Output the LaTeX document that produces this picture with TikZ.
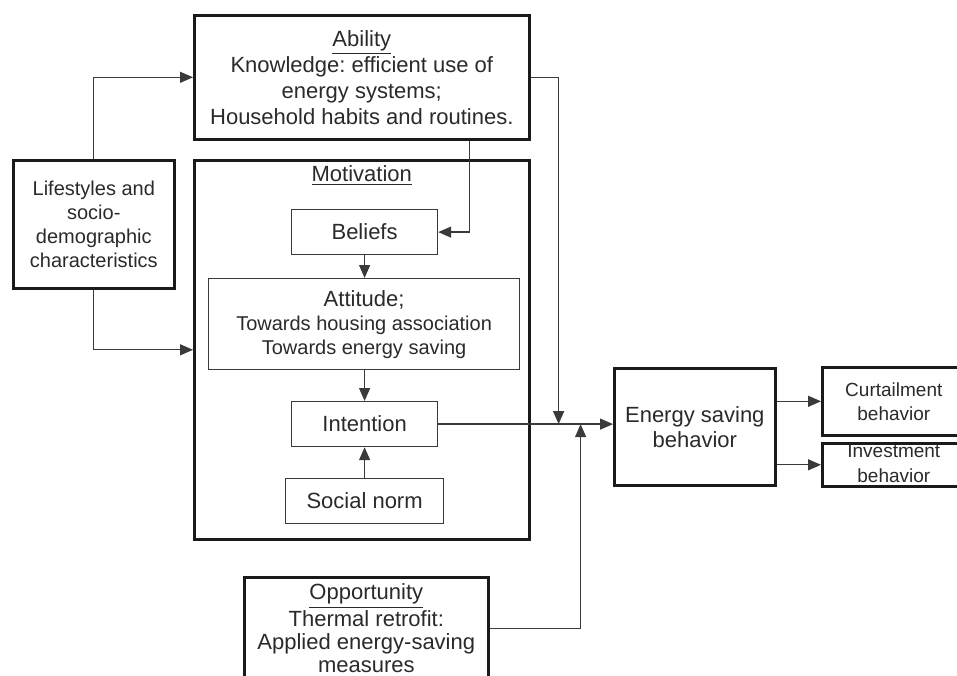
\documentclass[tikz,border=0pt]{standalone}
\usepackage{fontspec}
\setmainfont{Liberation Sans}
\usepackage{tikz}
\usetikzlibrary{positioning,calc,arrows.meta}
\definecolor{boxline}{HTML}{1A1A1A}
\definecolor{thinline}{HTML}{3A3A3A}
\definecolor{boxtext}{HTML}{2A2A2A}
\frenchspacing

\begin{document}
\begin{tikzpicture}[x=0.5pt, y=-0.5pt, >={Triangle[length=6.5pt, width=5.5pt]},
    font=\fontsize{11}{13}\selectfont, text=boxtext,
    outerbox/.style={draw=boxline, line width=1.3pt, align=center, inner sep=1pt, anchor=north west},
    innerbox/.style={draw=thinline, line width=0.6pt, align=center, inner sep=1pt, anchor=north west},
    flow/.style={->, draw=thinline, line width=0.65pt}]

\useasboundingbox (0,0) rectangle (957,675);

%%% ---------- CAJAS PRINCIPALES ----------
\node[outerbox, minimum width=167.5pt, minimum height=62pt] (ability) at (193,14)
    {\underline{Ability}\\Knowledge: efficient use of\\energy systems;\\Household habits and routines.};

\node[outerbox, minimum width=80.5pt, minimum height=64pt, font=\fontsize{10}{12}\selectfont]
    (lifestyles) at (12,159)
    {Lifestyles and\\socio-\\demographic\\characteristics};

% Motivacion (contenedor)
\node[outerbox, minimum width=167.5pt, minimum height=189.5pt] (motivation) at (193,159) {};
\node[anchor=north, inner sep=0pt] (motivlabel) at ([yshift=-3pt]motivation.north)
    {\underline{Motivation}};

% Cajas interiores
\node[innerbox, minimum width=73pt, minimum height=22.5pt] (beliefs) at (291,209) {Beliefs};
\node[innerbox, minimum width=155.5pt, minimum height=45.5pt] (attitude) at (208,278)
    {Attitude;\\[-1pt]{\fontsize{10}{12}\selectfont Towards housing association}\\[-1pt]
     {\fontsize{10}{12}\selectfont Towards energy saving}};
\node[innerbox, minimum width=73pt, minimum height=22.5pt] (intention) at (291,401) {Intention};
\node[innerbox, minimum width=79pt, minimum height=22.5pt] (socialnorm) at (285,478) {Social norm};

% Oportunidad
\node[outerbox, minimum width=122pt, minimum height=51pt, font=\fontsize{11}{11.6}\selectfont]
    (opportunity) at (243,576)
    {\underline{Opportunity}\\Thermal retrofit:\\Applied energy-saving\\measures};

% Comportamiento
\node[outerbox, minimum width=80.5pt, minimum height=58.5pt, font=\fontsize{11}{12.5}\selectfont]
    (energy) at (613,367) {Energy saving\\behavior};
\node[outerbox, minimum width=71.5pt, minimum height=34pt, font=\fontsize{9.5}{12}\selectfont]
    (curtail) at (821,366) {Curtailment\\behavior};
\node[outerbox, minimum width=71.5pt, minimum height=21.5pt] (invest) at (821,442) {};
\node[align=center, inner sep=0pt, font=\fontsize{9.5}{12.5}\selectfont]
    (investtext) at ([yshift=0.5pt]invest.center) {Investment\\behavior};

%%% ---------- FLECHAS ----------
\draw[flow] (lifestyles.north) |- (ability.west);
\draw[flow] (lifestyles.south) |- (motivation.west);
\draw[flow] ([xshift=54pt]ability.south) |- (beliefs.east);

\draw[flow] (beliefs.south) -- (beliefs.south |- attitude.north);
\draw[flow] (intention.north |- attitude.south) -- (intention.north);
\draw[flow] (intention.south |- socialnorm.north) -- (intention.south);
\draw[flow] (intention.east) -- (intention.east -| energy.west);

% Entradas hacia la linea de intencion
\coordinate (abilityturn) at ([xshift=14pt]ability.east);
\draw[flow] (ability.east) -- (abilityturn) -- (abilityturn |- intention.east);
\coordinate (opportunityturn) at ([xshift=45.5pt]opportunity.east);
\draw[flow] (opportunity.east) -- (opportunityturn) -- (opportunityturn |- intention.east);

\draw[flow] (energy.east |- curtail.west) -- (curtail.west);
\draw[flow] (energy.east |- invest.west) -- (invest.west);

\end{tikzpicture}
\end{document}
